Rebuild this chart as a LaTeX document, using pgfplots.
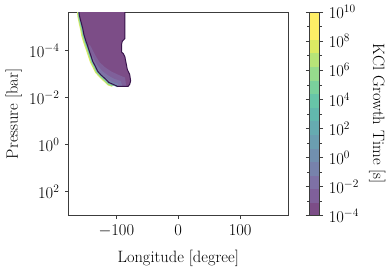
\documentclass[border=0pt]{standalone}
\usepackage{pgfplots}
\pgfplotsset{compat=1.18}
\definecolor{c0}{RGB}{124,77,135}
\definecolor{c1}{RGB}{127,96,154}
\definecolor{c2}{RGB}{126,113,166}
\definecolor{c3}{RGB}{119,130,172}
\definecolor{c4}{RGB}{113,144,175}
\definecolor{c6}{RGB}{102,171,176}
\definecolor{c8}{RGB}{103,197,168}
\definecolor{c10}{RGB}{150,219,141}
\definecolor{c12}{RGB}{220,234,99}
\definecolor{edge}{RGB}{55,20,75}
\definecolor{spine}{RGB}{60,60,60}
\begin{document}
\fontsize{17.2}{20}\selectfont
\begin{tikzpicture}
\begin{axis}[name=main, scale only axis, width=229bp, height=212bp,
  xmin=-177.5, xmax=177.5, ymin=-5.63, ymax=3.02, y dir=reverse,
  xtick={-100,0,100}, ytick={-4,-2,0,2},
  yticklabels={$10^{-4}$,$10^{-2}$,$10^{0}$,$10^{2}$},
  tick align=outside, tick pos=left, major tick length=3.5bp,
  axis line style={spine, line width=0.6bp},
  every tick/.style={spine, line width=0.6bp},
  xticklabel style={yshift=0bp},
  xlabel={Longitude [degree]}, ylabel={Pressure [bar]},
  xlabel style={yshift=-3bp}, ylabel style={yshift=-4bp},
  colormap={fv}{rgb255=(124,77,135) rgb255=(127,96,154) rgb255=(126,113,166)
    rgb255=(119,130,172) rgb255=(113,144,175) rgb255=(107,158,176)
    rgb255=(102,171,176) rgb255=(98,184,173) rgb255=(103,197,168)
    rgb255=(122,209,156) rgb255=(150,219,141) rgb255=(183,228,120)
    rgb255=(220,234,99) rgb255=(254,238,102) rgb255=(254,238,102)},
  colormap access=piecewise constant,
  point meta min=-4, point meta max=10,
  colorbar,
  colorbar style={scale only axis, width=11bp, height=212bp,
    at={(parent axis.north east)}, anchor=north west, xshift=13.5bp,
    ytick={-4,-2,0,2,4,6,8,10},
    yticklabels={$10^{-4}$,$10^{-2}$,$10^{0}$,$10^{2}$,$10^{4}$,$10^{6}$,$10^{8}$,$10^{10}$},
    minor ytick={-3,-1,1,3,5,7,9},
    tick align=outside, major tick length=3.5bp, minor tick length=2bp,
    yticklabel pos=right,
    axis line style={spine, line width=0.6bp},
    every tick/.style={spine, line width=0.6bp},
    ylabel={KCl Growth Time [s]}, ylabel style={rotate=180, yshift=-1bp}},
]
% outer fringe (yellow)
\addplot[fill=c12, draw=none, forget plot] coordinates {
(-164.0,-5.8) (-163.0,-5.45) (-160.9,-5.17) (-158.5,-4.89) (-156.6,-4.62)
(-153.6,-4.35) (-150.0,-4.08) (-147.4,-3.87) (-144.8,-3.67) (-142.2,-3.47)
(-138.0,-3.26) (-134.4,-3.06) (-127.5,-2.86) (-119.5,-2.66) (-114.2,-2.52)
(-107.5,-2.46) (-100,-2.6) (-110,-5.8)};
% green fringe
\addplot[fill=c10, draw=none, forget plot] coordinates {
(-163.0,-5.8) (-162.0,-5.46) (-159.8,-5.18) (-157.2,-4.91) (-155.2,-4.64)
(-152.1,-4.37) (-148.5,-4.10) (-145.9,-3.89) (-143.3,-3.69) (-140.8,-3.49)
(-136.6,-3.28) (-133.0,-3.08) (-126.8,-2.89) (-118.8,-2.69) (-113.6,-2.55)
(-106.5,-2.48) (-100,-2.6) (-110,-5.8)};
% teal fringe
\addplot[fill=c6, draw=none, forget plot] coordinates {
(-162.2,-5.8) (-161.0,-5.48) (-158.6,-5.21) (-155.9,-4.93) (-153.9,-4.66)
(-150.8,-4.39) (-147.2,-4.12) (-144.6,-3.91) (-142.0,-3.71) (-139.5,-3.51)
(-135.3,-3.30) (-131.7,-3.10) (-125.8,-2.93) (-117.9,-2.74) (-112.7,-2.60)
(-105.0,-2.51) (-98.5,-2.44) (-95,-2.6) (-110,-5.8)};
% main region
\addplot[fill=c0, draw=none, forget plot] coordinates {
(-161.2,-5.8) (-159.7,-5.49) (-157.1,-5.22) (-154.4,-4.95) (-152.4,-4.68)
(-149.3,-4.41) (-145.7,-4.14) (-143.1,-3.93) (-140.5,-3.73) (-138.0,-3.53)
(-133.8,-3.32) (-130.2,-3.12) (-124.8,-2.96) (-117.2,-2.78) (-112.1,-2.64)
(-104.3,-2.55) (-97.7,-2.47) (-81.1,-2.47) (-78.4,-2.56) (-76.9,-2.71)
(-78.4,-2.98) (-82.2,-3.19) (-83.7,-3.39) (-86.2,-3.73) (-88.8,-3.87)
(-91.5,-3.93) (-91.5,-4.27) (-90.4,-4.39) (-86.2,-4.51) (-86.2,-5.8)};
% inner lighter bands
\addplot[fill=c1, draw=none, forget plot] coordinates {
(-145.7,-4.14) (-143.1,-3.93) (-140.5,-3.73) (-138.0,-3.53) (-133.8,-3.32) (-130.2,-3.12)
(-124.8,-2.96) (-117.2,-2.78) (-112.1,-2.64) (-104.3,-2.55) (-97.7,-2.47)
(-84,-2.47) (-86,-2.85) (-98,-2.98) (-109,-3.12) (-119,-3.30)
(-127,-3.50) (-133,-3.75) (-139,-4.05) (-143,-4.25)};
\addplot[fill=c2, draw=none, forget plot] coordinates {
(-140.5,-3.73) (-138.0,-3.53) (-133.8,-3.32) (-130.2,-3.12)
(-124.8,-2.96) (-117.2,-2.78) (-112.1,-2.64) (-104.3,-2.55) (-97.7,-2.47)
(-90,-2.47) (-93,-2.70) (-104,-2.80) (-114,-2.95) (-123,-3.13)
(-130,-3.35) (-135,-3.57) (-139,-3.80)};
\addplot[fill=c3, draw=none, forget plot] coordinates {
(-133.8,-3.32) (-130.2,-3.12)
(-124.8,-2.96) (-117.2,-2.78) (-112.1,-2.64) (-104.3,-2.55) (-97.7,-2.47)
(-97,-2.58) (-107,-2.66) (-117,-2.84) (-125,-3.03) (-131,-3.25)};
% contour outline
\addplot[draw=edge, line width=1bp, line join=round, forget plot] coordinates {
(-161.2,-5.8) (-159.7,-5.49) (-157.1,-5.22) (-154.4,-4.95) (-152.4,-4.68)
(-149.3,-4.41) (-145.7,-4.14) (-143.1,-3.93) (-140.5,-3.73) (-138.0,-3.53)
(-133.8,-3.32) (-130.2,-3.12) (-124.8,-2.96) (-117.2,-2.78) (-112.1,-2.64)
(-104.3,-2.55) (-97.7,-2.47) (-81.1,-2.47) (-78.4,-2.56) (-76.9,-2.71)
(-78.4,-2.98) (-82.2,-3.19) (-83.7,-3.39) (-86.2,-3.73) (-88.8,-3.87)
(-91.5,-3.93) (-91.5,-4.27) (-90.4,-4.39) (-86.2,-4.51) (-86.2,-5.8)};
\end{axis}
\path (main.south west) ++(-67.5bp,-51bp) rectangle ++(391bp,275bp);
\end{tikzpicture}
\end{document}
